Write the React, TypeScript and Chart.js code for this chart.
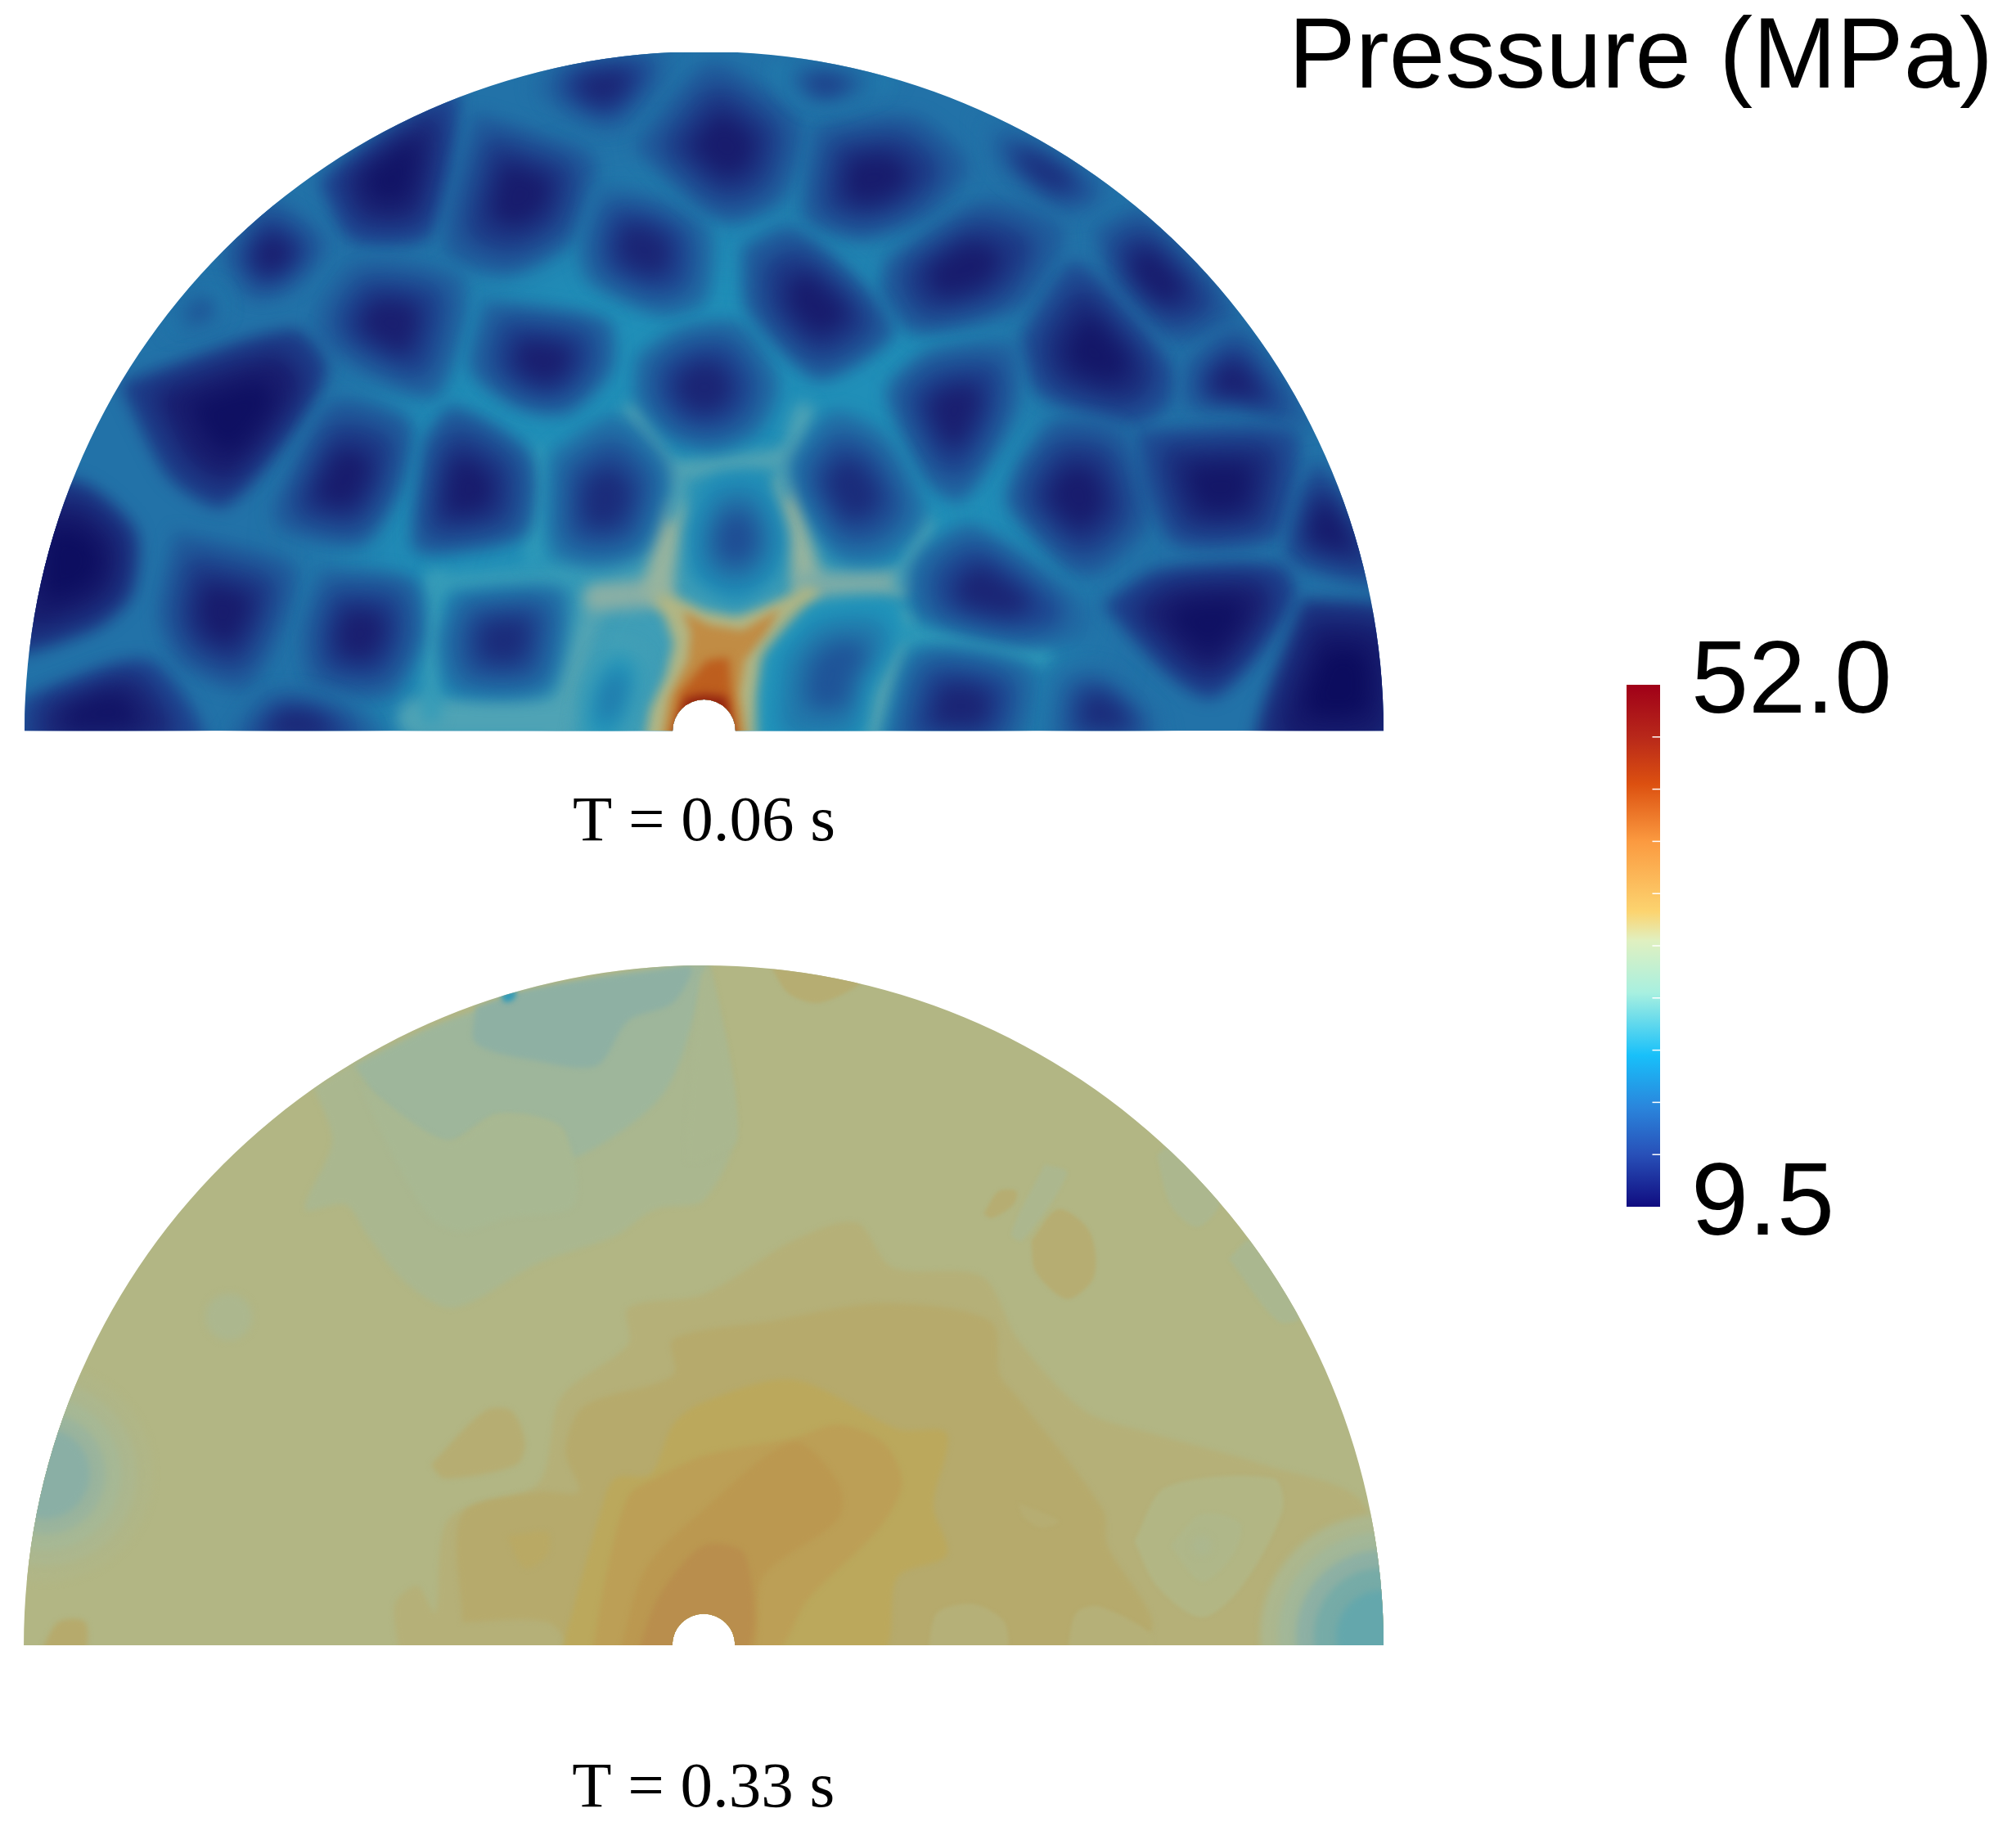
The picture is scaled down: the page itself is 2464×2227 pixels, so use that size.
import React, { useEffect, useRef } from "react";
import { Chart, registerables } from "chart.js";

// ---- Pressure palette (MPa -> colour seen in the field) ----
const fieldLevels = [9.5, 13, 16, 19, 22, 25, 28, 30, 32, 34, 35, 36, 37, 38.5, 40, 41, 43, 46, 49, 52];
const fieldColours = ["#0c0c5e", "#1a1f70", "#1e4590", "#2272a8", "#1f95bb", "#4fa3b5", "#6fa9a8", "#8aafa5", "#a5b897", "#b2b684", "#b5b078", "#b6aa6c", "#bba85c", "#bc9f56", "#bb9850", "#b98e4d", "#c88a3a", "#bb5518", "#a03010", "#7a0a10"];

// ---- Colour bar ----
const barRange = [9.5, 52];
const barTicks = [9.5, 52];
const barMinorTicks = [13.75, 18, 22.25, 26.5, 30.75, 35, 39.25, 43.5, 47.75];
const barStopAt = [0, 0.1, 0.19, 0.29, 0.41, 0.51, 0.565, 0.7, 0.81, 0.9, 1];
const barStopColour = ["#100c80", "#2850b8", "#2a85dc", "#18c0fa", "#a8f0e0", "#e0f0c0", "#fcd470", "#fb9a40", "#dc5010", "#b8281a", "#a00018"];

// ---- T = 0.06 s: grain outlines (x, y in the panel's own units) and minimum pressure ----
const topCellPressure = [13.5, 11, 12.5, 13.5, 12.5, 13, 13, 13, 15, 10.2, 12.5, 12.5, 14, 13.5, 9.8, 12.5, 13, 14, 11, 13.5, 19.5, 16.5];
const topCells = [
  [[1195,105],[1260,40],[1480,20],[1475,90],[1370,195],[1270,165]],
  [[725,310],[880,190],[1005,130],[950,420],[790,430]],
  [[1065,175],[1190,215],[1310,270],[1270,430],[1130,505],[1005,450]],
  [[1335,330],[1460,350],[1568,420],[1560,570],[1470,600],[1320,530],[1300,450]],
  [[1430,235],[1568,70],[1620,70],[1768,190],[1730,340],[1630,390],[1560,360]],
  [[500,480],[590,360],[720,450],[650,545],[565,570]],
  [[720,590],[800,500],[1010,530],[1020,620],[960,780],[830,740],[720,660]],
  [[1090,590],[1340,630],[1350,730],[1260,820],[1160,810],[1060,730]],
  [[360,650],[470,550],[500,600],[430,630]],
  [[290,770],[640,660],[710,740],[640,870],[500,1020],[390,960]],
  [[620,1040],[740,820],[900,860],[880,1000],[800,1110],[640,1080]],
  [[950,900],[1010,830],[1170,930],[1160,1090],[1000,1130],[930,1120]],
  [[1235,930],[1370,850],[1480,960],[1430,1130],[1330,1160],[1240,1130]],
  [[1430,710],[1520,650],[1640,640],[1720,760],[1680,860],[1590,900],[1500,880],[1430,800]],
  [[20,1000],[180,1000],[290,1100],[280,1230],[200,1300],[20,1340]],
  [[400,1110],[640,1180],[620,1300],[540,1430],[410,1380],[365,1280]],
  [[720,1190],[910,1210],[930,1330],[860,1450],[700,1430],[680,1320]],
  [[1020,1240],[1240,1230],[1250,1310],[1210,1440],[1020,1440],[990,1340]],
  [[60,1470],[320,1390],[430,1560],[60,1580]],
  [[510,1560],[590,1460],[700,1460],[800,1500],[850,1580],[500,1580]],
  [[1310,1430],[1370,1340],[1430,1370],[1420,1450],[1370,1580],[1290,1580]],
  [[1540,1090],[1590,985],[1690,980],[1745,1100],[1720,1190],[1640,1240],[1550,1190]],
];
const topCellPressureR = [12.5, 15, 14, 12.5, 12.5, 12.5, 11.5, 13, 13, 14, 12.5, 11.5, 12, 13.5, 10.5, 9.5, 17, 13.5, 14];
const topCellsR = [
  [[260,200],[460,180],[570,280],[490,380],[350,430],[240,390],[240,310]],
  [[150,60],[260,50],[420,90],[370,115],[250,150],[190,110]],
  [[620,180],[760,230],[920,350],[820,395],[650,270]],
  [[420,490],[620,370],[780,430],[700,580],[480,640],[410,560]],
  [[100,470],[200,430],[350,550],[410,640],[350,700],[250,740],[110,600]],
  [[880,430],[980,390],[1170,600],[1050,660],[920,540]],
  [[750,610],[830,510],[940,610],[1030,730],[1020,800],[950,840],[760,780],[720,680]],
  [[1080,720],[1190,640],[1340,850],[1200,820],[1080,810]],
  [[430,760],[510,700],[680,690],[690,800],[650,900],[570,1010],[500,970],[420,800]],
  [[200,940],[290,840],[400,890],[480,1050],[400,1140],[300,1140],[210,1000]],
  [[710,950],[790,860],[920,880],[980,1060],[880,1170],[820,1170],[690,1030]],
  [[980,880],[1300,880],[1300,1000],[1260,1100],[1060,1110],[1000,1000]],
  [[1330,1020],[1370,950],[1530,1200],[1310,1150]],
  [[500,1140],[600,1090],[840,1260],[830,1320],[700,1340],[490,1280],[470,1190]],
  [[910,1260],[1020,1190],[1270,1180],[1300,1240],[1220,1370],[1130,1450],[1040,1400]],
  [[1340,1260],[1540,1290],[1540,1580],[1250,1580]],
  [[150,1370],[250,1270],[410,1260],[440,1320],[370,1450],[340,1580],[145,1580]],
  [[410,1580],[480,1370],[720,1410],[680,1580]],
  [[770,1580],[790,1420],[880,1400],[1010,1510],[1010,1580]],
];
const topWallPressure = [25.5, 25, 23.5, 23.5, 23, 30, 31, 25, 31, 25, 25.5, 29, 24.5, 26, 23];
const topWallWidth = [24, 50, 24, 24, 24, 34, 34, 26, 34, 26, 24, 34, 24, 28, 26];
const topWalls = [
  [[1330,1240],[1280,1400],[1240,1552]],
  [[930,1510],[1260,1510]],
  [[970,1200],[960,1500]],
  [[970,1210],[1340,1190]],
  [[1200,920],[1190,1150]],
  [[1331,1240],[1465,1230]],
  [[1465,1220],[1495,1050]],
  [[1495,1050],[1510,1000],[1410,830]],
  [[1800,1210],[1750,1000]],
  [[1750,1000],[1750,970],[1790,830]],
  [[1500,960],[1750,930]],
  [[1800,1215],[2000,1210]],
  [[2010,1210],[2060,1080]],
  [[2010,1290],[1930,1552]],
  [[2020,1320],[2320,1370]],
];
const topHotPressure = [34, 42, 45.5, 50];
const topHot = [
  [[1465,1234],[1495,1234],[1568,1270],[1641,1283],[1708,1258],[1799,1216],[1830,1228],[1750,1319],[1702,1380],[1690,1459],[1702,1570],[1435,1570],[1447,1489],[1483,1416],[1501,1343],[1483,1289],[1459,1252]],
  [[1520,1270],[1580,1301],[1653,1313],[1738,1264],[1708,1319],[1659,1380],[1647,1453],[1665,1570],[1471,1570],[1489,1465],[1532,1380],[1538,1319]],
  [[1574,1380],[1623,1374],[1629,1453],[1641,1570],[1492,1570],[1514,1453]],
  [[1526,1465],[1568,1456],[1617,1462],[1638,1570],[1495,1570]],
];

// ---- T = 0.33 s: pressure plateaus (outline + pressure), drawn from low to high detail ----
const lowPressure = [32.8, 31.5, 32.5, 30.3, 32.8, 23];
const lowZones = [
  [[700,310],[790,255],[1000,160],[1300,70],[1568,20],[1580,20],[1640,400],[1568,560],[1460,580],[1370,640],[1200,700],[1010,800],[900,740],[820,640],[770,570],[680,580],[740,430]],
  [[790,260],[1000,160],[1300,70],[1568,35],[1575,40],[1480,320],[1270,470],[1250,400],[1110,370],[990,430],[850,340]],
  [[800,300],[1000,430],[1110,370],[1250,400],[1280,570],[1130,600],[1030,630],[960,600],[870,450]],
  [[1060,130],[1180,90],[1450,50],[1540,40],[1500,120],[1400,160],[1330,260],[1200,250],[1060,210]],
  [[1562,60],[1578,40],[1643,420],[1568,470],[1530,470]],
  [[1115,100],[1150,92],[1145,112],[1125,118]],
];
const highPressure = [35, 36, 37, 38.5, 40, 41, 36.5, 35.5, 36];
const highZones = [
  [[890,1570],[880,1460],[930,1420],[970,1480],[1000,1270],[1200,1190],[1250,1000],[1400,880],[1400,800],[1568,770],[1768,650],[1908,610],[1988,710],[2188,730],[2268,870],[2418,1030],[2568,1080],[2818,1150],[3040,1240],[3060,1570]],
  [[1030,1500],[1030,1260],[1200,1210],[1290,1210],[1260,1120],[1300,1020],[1500,950],[1500,870],[1718,830],[1968,790],[2208,830],[2228,950],[2268,1000],[2458,1250],[2468,1330],[2568,1510],[2440,1570],[1300,1570],[1220,1500]],
  [[1250,1570],[1340,1250],[1370,1180],[1450,1170],[1500,1060],[1568,1010],[1768,960],[2000,1070],[2110,1080],[2080,1240],[2110,1350],[2000,1400],[1960,1570]],
  [[1320,1570],[1350,1400],[1400,1220],[1460,1180],[1568,1130],[1768,1090],[1868,1060],[1968,1100],[2010,1190],[1960,1290],[1800,1450],[1720,1570]],
  [[1380,1570],[1440,1380],[1568,1250],[1768,1100],[1868,1190],[1868,1270],[1700,1400],[1670,1570]],
  [[1420,1570],[1470,1440],[1568,1330],[1660,1350],[1660,1570]],
  [[1130,1310],[1220,1300],[1220,1350],[1170,1380]],
  [[960,1150],[1080,1030],[1140,1030],[1170,1100],[1150,1150],[990,1180]],
  [[90,1570],[130,1500],[190,1500],[185,1570]],
];
const patchPressure = [34, 33.5, 35, 35, 35.5, 35.5, 35.5, 33, 33, 32.8, 35.5];
const patchZones = [
  [[2528,1320],[2598,1200],[2838,1180],[2858,1250],[2768,1420],[2678,1490],[2578,1420]],
  [[2608,1330],[2678,1260],[2763,1280],[2748,1350],[2678,1410]],
  [[2068,1570],[2088,1480],[2168,1460],[2238,1500],[2238,1570]],
  [[2378,1570],[2398,1480],[2448,1465],[2568,1530],[2548,1570]],
  [[2298,650],[2358,580],[2428,630],[2438,730],[2378,780],[2308,720]],
  [[2192,590],[2225,540],[2265,540],[2258,570],[2210,600]],
  [[1718,40],[1918,70],[1828,120],[1758,100]],
  [[2328,480],[2378,500],[2278,650],[2253,635]],
  [[2578,460],[2608,440],[2718,560],[2668,620],[2608,570]],
  [[2738,690],[2788,650],[2898,820],[2848,830]],
  [[2270,1235],[2360,1275],[2320,1290],[2280,1265]],
];
const ringPressure = [33.7, 33, 32.2, 31.2, 30, 33, 33, 31.8, 30.2, 28.5, 27, 33];
const ringX = [100, 100, 100, 100, 100, 510, 3078, 3078, 3078, 3078, 3078, 2678];
const ringY = [1170, 1170, 1170, 1170, 1170, 820, 1530, 1530, 1530, 1530, 1530, 1330];
const ringR = [240, 205, 170, 135, 100, 52, 270, 230, 190, 150, 100, 22];

// ---- Text ----
const topLabel = "T = 0.06 s";
const bottomLabel = "T = 0.33 s";
const colourTitle = "Pressure (MPa)";

const hex = (s: string) => [1, 3, 5].map((i) => parseInt(s.slice(i, i + 2), 16));
function pressureColour(v: number) {
  let i = 0;
  while (i < fieldLevels.length - 2 && v > fieldLevels[i + 1]) i++;
  const f = Math.min(1, Math.max(0, (v - fieldLevels[i]) / (fieldLevels[i + 1] - fieldLevels[i])));
  const a = hex(fieldColours[i]);
  const b = hex(fieldColours[i + 1]);
  return `rgb(${a.map((c, k) => Math.round(c + (b[k] - c) * f)).join(",")})`;
}

const toPts = (p: number[][]) => p.map(([x, y]) => ({ x, y }));
const shift = (p: number[][], dx: number) => p.map(([x, y]) => [x + dx, y]);
function shrink(p: number[][], k: number) {
  const cx = p.reduce((s, q) => s + q[0], 0) / p.length;
  const cy = p.reduce((s, q) => s + q[1], 0) / p.length;
  return p.map(([x, y]) => [cx + (x - cx) * k, cy + (y - cy) * k]);
}
const area = (p: number[][], v: number, blur: number, tension = 0) => ({
  type: "scatter", showLine: true, fill: "shape", pointRadius: 0, borderWidth: 0, tension,
  borderColor: "rgba(0,0,0,0)", backgroundColor: pressureColour(v), blur,
  data: toPts(tension ? [...p, p[0]] : p),
});
const wall = (p: number[][], v: number, width: number, blur: number) => ({
  type: "scatter", showLine: true, fill: false, pointRadius: 0, borderWidth: width,
  borderColor: pressureColour(v), borderCapStyle: "round", blur, data: toPts(p),
});
const disc = (x: number, y: number, r: number, v: number, blur: number) => ({
  type: "scatter", showLine: false, pointRadius: r, pointBorderWidth: 0,
  pointBackgroundColor: pressureColour(v), blur, data: [{ x, y }],
});

const blurPlugin = {
  id: "fieldBlur",
  beforeDatasetDraw(chart: any, args: any) {
    const b = chart.data.datasets[args.index].blur;
    if (b) chart.ctx.filter = `blur(${b}px)`;
  },
};
const clipPlugin = {
  id: "fieldClip",
  beforeDatasetsDraw(chart: any, _a: any, o: any) {
    if (!o.radius) return;
    const { x, y } = chart.scales;
    const cx = x.getPixelForValue(o.cx);
    const by = y.getPixelForValue(o.base);
    const r = x.getPixelForValue(o.cx + o.radius) - cx;
    const h = x.getPixelForValue(o.cx + o.hole) - cx;
    const c = chart.ctx;
    c.save();
    c.beginPath();
    c.moveTo(cx - r, by);
    c.arc(cx, by, r, Math.PI, 2 * Math.PI);
    c.lineTo(cx + h, by);
    c.arc(cx, by, h, 2 * Math.PI, Math.PI, true);
    c.closePath();
    c.clip();
  },
  afterDatasetsDraw(chart: any, _a: any, o: any) {
    if (o.radius) chart.ctx.restore();
  },
};
// registered first so the filter is in place before the Filler paints
Chart.register(blurPlugin, clipPlugin);
Chart.register(...registerables);

function panelOptions(label: string, xr: number[], yr: number[], pad: any, axisH: number, titlePad: number, cx: number, base: number, radius: number): any {
  return {
    responsive: false, animation: false, devicePixelRatio: 1, events: [],
    layout: { padding: pad, autoPadding: false },
    plugins: { legend: { display: false }, tooltip: { enabled: false }, title: { display: false },
      fieldClip: { cx, base, radius, hole: 70 } },
    scales: {
      x: { type: "linear", min: xr[0], max: xr[1], grid: { display: false, drawTicks: false }, border: { display: false },
        ticks: { display: false },
        title: { display: true, text: label, color: "#000", font: { family: "Liberation Serif", size: 79, lineHeight: 1 }, padding: { top: 0, bottom: titlePad } },
        afterFit: (s: any) => { s.height = axisH; } },
      y: { type: "linear", reverse: true, min: yr[0], max: yr[1], display: false },
    },
  };
}

// Chart.js paints the first dataset last, so the painter's order is reversed on return.
function topDatasets() {
  const d: any[] = [];
  d.push(area([[54,25],[3082,25],[3082,1538],[54,1538]], 19, 0));
  d.push(disc(1568, 1150, 430, 21.5, 55));
  d.push(disc(1568, 1400, 210, 24, 40));
  topWalls.forEach((w, i) => d.push(wall(w, topWallPressure[i], topWallWidth[i], 9)));
  topHot.forEach((p, i) => d.push(area(p, topHotPressure[i], i === 0 ? 7 : 6)));
  const cells = [...topCells, ...topCellsR.map((p) => shift(p, 1568))];
  const vals = [...topCellPressure, ...topCellPressureR];
  cells.forEach((p, i) => {
    d.push(area(shrink(p, 1.1), vals[i] + 5, 10, 0.25));
    d.push(area(shrink(p, 0.8), vals[i] + 2.5, 14, 0.25));
    d.push(area(shrink(p, 0.45), vals[i], 13, 0.25));
  });
  return d.reverse();
}
function bottomDatasets() {
  const d: any[] = [];
  d.push(area([[52,35],[3083,35],[3083,1552],[52,1552]], 34, 0));
  lowZones.forEach((p, i) => d.push(area(p, lowPressure[i], 3, 0.3)));
  highZones.forEach((p, i) => d.push(area(p, highPressure[i], 3, 0.3)));
  patchZones.forEach((p, i) => d.push(area(p, patchPressure[i], 2, 0.3)));
  ringR.forEach((r, i) => d.push(disc(ringX[i], ringY[i], r * 0.5485, ringPressure[i], 4)));
  return d.reverse();
}

export default function App() {
  const a = useRef<HTMLCanvasElement>(null);
  const b = useRef<HTMLCanvasElement>(null);
  const c = useRef<HTMLCanvasElement>(null);
  useEffect(() => {
    const top = new Chart(a.current as any, {
      type: "scatter",
      data: { datasets: topDatasets() },
      options: panelOptions(topLabel, [54, 3082], [25, 1538], { left: 30, right: 29, top: 64, bottom: 0 }, 206.5, 54.5, 1568, 1538, 1514),
    } as any);
    const bottom = new Chart(b.current as any, {
      type: "scatter",
      data: { datasets: bottomDatasets() },
      options: panelOptions(bottomLabel, [52, 3083], [35, 1552], { left: 28.5, right: 29, top: 79, bottom: 0 }, 216, 0.5, 1568, 1552, 1515),
    } as any);
    const bar = new Chart(c.current as any, {
      type: "bar",
      data: {
        datasets: [
          {
            type: "scatter", yAxisID: "y", showLine: false, pointStyle: "line", pointRadius: 5,
            pointBorderColor: "#ffffff", pointBorderWidth: 1.5,
            data: barMinorTicks.map((y) => ({ x: 0.39, y })),
          },
          {
            yAxisID: "y",
            data: [{ x: 0, y: barRange }],
            barThickness: 42,
            backgroundColor: (ctx: any) => {
              const area = ctx.chart.chartArea;
              if (!area) return "#888";
              const g = ctx.chart.ctx.createLinearGradient(0, area.bottom, 0, area.top);
              barStopAt.forEach((s, i) => g.addColorStop(s, barStopColour[i]));
              return g;
            },
          },
        ],
      },
      options: {
        responsive: false, animation: false, devicePixelRatio: 1, events: [],
        layout: { padding: { left: 0, right: 0, top: 0, bottom: 125 }, autoPadding: false },
        plugins: {
          legend: { display: false }, tooltip: { enabled: false },
          title: { display: true, text: colourTitle, align: "end", color: "#000",
            font: { family: "Liberation Sans", size: 123, weight: "normal", lineHeight: 1 },
            padding: { top: 12, bottom: 702 } },
        },
        scales: {
          x: { type: "linear", min: -0.5, max: 0.5, offset: false, display: false },
          yGap: { type: "linear", position: "left", min: 0, max: 1, grid: { display: false, drawTicks: false }, border: { display: false },
            ticks: { display: false }, afterFit: (s: any) => { s.width = 488; } },
          y: {
            type: "linear", position: "right", min: barRange[0], max: barRange[1],
            grid: { display: false, drawTicks: false }, border: { display: false },
            afterBuildTicks: (s: any) => { s.ticks = barTicks.map((value) => ({ value })); },
            afterFit: (s: any) => { s.width = 407; },
            ticks: { color: "#000", padding: 38, labelOffset: -1, autoSkip: false, maxRotation: 0,
              font: { family: "Liberation Sans", size: 126 },
              callback: (v: any) => Number(v).toFixed(1) },
          },
        },
      },
    } as any);
    return () => { top.destroy(); bottom.destroy(); bar.destroy(); };
  }, []);
  return (
    <div style={{ position: "absolute", left: 0, top: 0, width: 2464, height: 2227, background: "#fff" }}>
      <canvas ref={a} width={1720} height={1100} style={{ position: "absolute", left: 0, top: 0 }} />
      <canvas ref={b} width={1720} height={1127} style={{ position: "absolute", left: 0, top: 1100 }} />
      <canvas ref={c} width={936} height={1600} style={{ position: "absolute", left: 1500, top: 0 }} />
    </div>
  );
}
